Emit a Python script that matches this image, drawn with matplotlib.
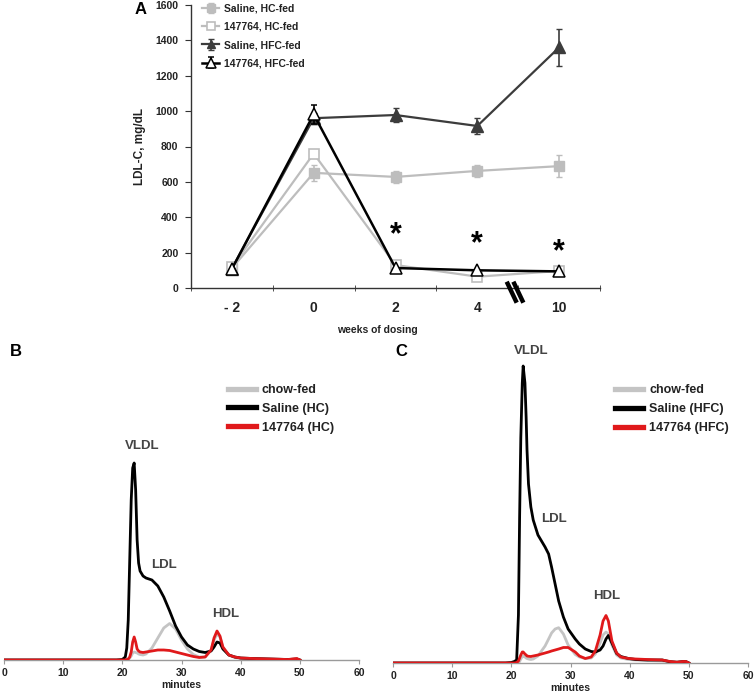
import matplotlib
matplotlib.use("Agg")
import matplotlib.pyplot as plt
from matplotlib.lines import Line2D
import numpy as np

plt.rcParams['font.family'] = ['Liberation Sans', 'DejaVu Sans']
plt.rcParams['font.weight'] = 'bold'

# ---------------- Panel A data ----------------
weeks = ["- 2", "0", "2", "4", "10"]
saline_hc = [112, 651, 628, 662, 689]
saline_hc_err = [0, 45, 34, 33, 62]
aso_hc = [119, 760, 130, 64, 96]
saline_hfc = [110, 960, 978, 916, 1360]
saline_hfc_err = [0, 30, 37, 43, 107]
aso_hfc = [108, 982, 113, 100, 94]
aso_hfc_err = [0, 55, 0, 0, 0]
star_weeks_idx = [2, 3, 4]
star_y = [300, 250, 200]

# ---------------- Panel B data (FPLC, HC diet) ----------------
minutes_b = [0, 10, 19, 20, 20.5, 20.75, 21, 21.25, 21.5, 21.75, 22, 22.25, 22.5, 22.75, 23,
             23.5, 24, 25, 26, 27, 28, 29, 30, 31, 32, 33, 34, 35, 35.5, 36, 36.5, 37, 38, 39,
             40, 42, 45, 48, 49.5, 50]
chow_b = [0, 0, 0, 0, 0, 0, 0.5, 2, 4, 7, 8, 7.5, 7, 6, 5.5, 5, 6, 12, 22, 32,
          36.5, 31, 20, 11, 5.5, 3, 3, 10, 20, 26, 23, 12, 5, 2.5, 1.5, 1, 0.5, 0.3, 0.2, 0]
saline_b = [0, 0, 0, 0.5, 3, 12, 40, 100, 160, 192, 197, 170, 120, 97, 89, 84, 82, 80, 74, 63,
            49, 34, 23, 15, 11, 8.5, 7.5, 9, 13, 18, 17, 11, 5, 3, 2, 1.5, 1, 0.5, 1, 0]
aso_b = [0, 0, 0, 0, 0, 0.5, 1, 3, 8, 18, 23, 18, 11, 9, 8, 7.5, 8, 9, 10, 10,
         9.5, 8, 6.5, 5, 3.5, 2.5, 3, 10, 22, 29, 24, 13, 5, 3, 2, 1.5, 1, 0.5, 1.5, 0]

# ---------------- Panel C data (FPLC, HFC diet) ----------------
minutes_c = [0, 10, 19, 20, 20.5, 20.9, 21.2, 21.4, 21.6, 21.85, 22.0, 22.3, 22.5, 22.65, 22.9,
             23.3, 23.7, 24.5, 25.7, 26.3, 26.8, 27.4, 28, 28.8, 29.6, 30.8, 31.5, 32.5, 33.5,
             34.2, 35, 35.5, 36, 36.4, 37, 37.8, 38.5, 39.8, 41, 43, 45.5, 46.8, 48, 49, 49.5, 50]
chow_c = [0, 0, 0, 0, 0, 0, 0.5, 1.5, 4, 6.5, 7, 6, 5, 4.5, 4, 3.5, 4, 7, 17, 24,
          30, 34, 35.3, 29, 18, 8.5, 6, 4.5, 5, 9, 20, 28, 31, 29, 18, 8, 5, 3.5, 3, 2.5,
          2, 1, 0.5, 0.5, 0.3, 0]
saline_c = [0, 0, 0, 0.5, 1.5, 3, 48, 146, 225, 280, 297, 280, 246, 213, 179, 156, 143, 128, 116, 109,
            96, 79, 62, 46, 34, 24, 19, 14, 11.5, 11, 13, 17, 24, 27.5, 20, 9.5, 6.5, 4.5, 3.5, 3,
            3, 1.3, 0.8, 1.5, 1.5, 0]
aso_c = [0, 0, 0, 0, 0, 0.5, 2, 5, 8, 11, 11, 9, 8, 7, 6.7, 6.5, 7, 8, 10, 11,
         12, 13, 14, 15.5, 15.5, 11, 7, 4.5, 6, 12, 28, 42, 47.5, 42, 22, 10, 6, 4.5, 4, 3.5,
         3, 1.5, 0.8, 1.5, 1.5, 0]

W, H = 754, 693
fig = plt.figure(figsize=(W / 100, H / 100), dpi=100)

def frac(x0, y0, x1, y1):
    return [x0 / W, 1 - y1 / H, (x1 - x0) / W, (y1 - y0) / H]

TXT = '#222222'

# ---------------- Panel A ----------------
ax = fig.add_axes(frac(191, 5, 600, 288))
x = np.arange(len(weeks))
c_light = '#bdbdbd'
c_dark = '#3c3c3c'
h1 = ax.errorbar(x, saline_hc, yerr=saline_hc_err, color=c_light, marker='s', ms=6.5,
                 mfc=c_light, mec=c_light, lw=1.6, capsize=2.5, elinewidth=1.2, zorder=2)
h2, = ax.plot(x, aso_hc, color=c_light, marker='s', ms=7, mfc='white', mec=c_light, mew=1.2,
              lw=1.6, zorder=3)
h3 = ax.errorbar(x, saline_hfc, yerr=saline_hfc_err, color=c_dark, marker='^', ms=8,
                 mfc=c_dark, mec=c_dark, lw=1.6, capsize=2.5, elinewidth=1.2, zorder=4)
h4 = ax.errorbar(x, aso_hfc, yerr=aso_hfc_err, color='black', marker='^', ms=9, mfc='white', mec='black',
                 mew=1.1, lw=1.8, capsize=2.5, elinewidth=1.2, zorder=5)
for i, yv in zip(star_weeks_idx, star_y):
    ax.text(x[i], yv, '*', ha='center', va='center', fontsize=22, fontweight='bold', color='black')

ax.set_xlim(-0.5, len(weeks) - 0.5)
ax.set_ylim(0, 1600)
ax.set_yticks(np.arange(0, 1601, 200))
ax.set_xticks(x)
ax.set_xticklabels(weeks, fontsize=10, fontweight='bold', color=TXT)
ax.set_xticks(np.arange(-0.5, len(weeks)), minor=True)
ax.tick_params(axis='x', which='major', length=0, pad=9)
ax.tick_params(axis='x', which='minor', length=5, direction='inout', color='#333333')
ax.tick_params(axis='y', labelsize=7.5, length=4, colors='#333333', labelcolor=TXT, pad=5)
for lab in ax.get_yticklabels():
    lab.set_fontweight('bold')
for s in ['top', 'right']:
    ax.spines[s].set_visible(False)
for s in ['left', 'bottom']:
    ax.spines[s].set_color('#333333')
    ax.spines[s].set_linewidth(1.0)
ax.set_ylabel('LDL-C, mg/dL', fontsize=8.5, fontweight='bold', color=TXT)
ax.yaxis.set_label_coords(-0.11, 0.5)
ax.set_xlabel('weeks of dosing', fontsize=7.5, fontweight='bold', color=TXT)
ax.xaxis.set_label_coords(0.455, -0.13)
leg = ax.legend([h1, h2, h3, h4],
                ['Saline, HC-fed', '147764, HC-fed', 'Saline, HFC-fed', '147764, HFC-fed'],
                loc='upper left', bbox_to_anchor=(0.01, 1.03), frameon=False, fontsize=7.5,
                handlelength=1.6, handletextpad=0.45, labelspacing=0.78, borderaxespad=0.3,
                markerscale=0.8)
for t in leg.get_texts():
    t.set_color(TXT)
# axis break mark
for dx in (0, 16):
    ax.plot([(506.7 + dx / 2.4 - 191) / 409, (516.7 + dx / 2.4 - 191) / 409],
            [(288 - 281.7) / 283, (288 - 302.7) / 283], transform=ax.transAxes,
            color='black', lw=3.2, clip_on=False, solid_capstyle='butt', zorder=6)
fig.text(135 / W, 1 - 10 / H, 'A', fontsize=12, fontweight='bold', ha='left', va='center')

# ---------------- Panels B and C ----------------
def chrom(rect, minutes, chow, saline, aso, labels, leg_anchor, annot):
    a = fig.add_axes(rect)
    a.plot(minutes, chow, color='#c4c4c4', lw=2.0, zorder=2, solid_joinstyle='round')
    a.plot(minutes, saline, color='black', lw=2.0, zorder=3, solid_joinstyle='round')
    a.plot(minutes, aso, color='#e0191b', lw=2.0, zorder=4, solid_joinstyle='round')
    a.set_xlim(0, 60)
    a.set_ylim(0, 320)
    a.set_xticks(np.arange(0, 61, 10))
    a.set_yticks([])
    for s in ['top', 'right', 'left']:
        a.spines[s].set_visible(False)
    a.spines['bottom'].set_color('#9a9a9a')
    a.spines['bottom'].set_linewidth(1.0)
    a.tick_params(axis='x', length=3, color='#9a9a9a', labelsize=7.5, labelcolor=TXT, pad=3)
    for lab in a.get_xticklabels():
        lab.set_fontweight('bold')
    a.set_xlabel('minutes', fontsize=7.5, fontweight='bold', color=TXT, labelpad=1)
    handles = [Line2D([], [], color='#c4c4c4', lw=3.8),
               Line2D([], [], color='black', lw=3.8),
               Line2D([], [], color='#e0191b', lw=3.8)]
    lg = a.legend(handles, labels, loc='upper left', bbox_to_anchor=leg_anchor, frameon=False,
                  fontsize=9, handlelength=2.2, handletextpad=0.5, labelspacing=0.55)
    for t in lg.get_texts():
        t.set_color(TXT)
        t.set_fontweight('bold')
    for txt, xm, yv in annot:
        a.text(xm, yv, txt, ha='center', va='center', fontsize=9.5, fontweight='bold', color='#444444')
    return a

chrom(frac(4, 340, 359, 660), minutes_b, chow_b, saline_b, aso_b,
      ['chow-fed', 'Saline (HC)', '147764 (HC)'], (0.60, 0.898),
      [('VLDL', 23.3, 214), ('LDL', 27.0, 95), ('HDL', 37.4, 46)])
chrom(frac(393, 343, 748, 663), minutes_c, chow_c, saline_c, aso_c,
      ['chow-fed', 'Saline (HFC)', '147764 (HFC)'], (0.595, 0.906),
      [('VLDL', 23.3, 312), ('LDL', 27.2, 144), ('HDL', 36.2, 67)])
fig.text(10 / W, 1 - 352 / H, 'B', fontsize=12, fontweight='bold', ha='left', va='center')
fig.text(395 / W, 1 - 352 / H, 'C', fontsize=12, fontweight='bold', ha='left', va='center')

fig.savefig('out.png', dpi=100)
